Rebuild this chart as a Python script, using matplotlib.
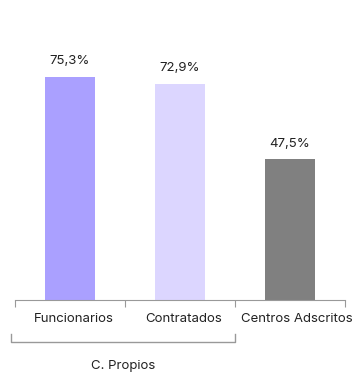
import matplotlib.pyplot as plt
from matplotlib.transforms import blended_transform_factory, offset_copy

categories = ["Funcionarios", "Contratados", "Centros Adscritos"]
values = [75.3, 72.9, 47.5]
labels = ["75,3%", "72,9%", "47,5%"]
colors = ["#aaa0ff", "#dcd6ff", "#808080"]
group_label = "C. Propios"

plt.rcParams['font.family'] = ['Inter', 'DejaVu Sans']

fig = plt.figure(figsize=(3.52, 3.74), dpi=100)
ax = fig.add_axes([15 / 352, 74 / 374, 330 / 352, 270 / 374])

x = list(range(len(categories)))
ax.bar(x, values, width=50 / 110, color=colors)
for xi, v, lab in zip(x, values, labels):
    ax.annotate(lab, (xi, v), xytext=(0, 7), textcoords="offset points",
                ha="center", va="bottom", fontsize=9.5, color="#222222")

ax.set_xlim(-0.5, 2.5)
ax.set_ylim(0, 270 / 2.963)

for s in ["top", "right", "left"]:
    ax.spines[s].set_visible(False)
ax.spines["bottom"].set_color("#999999")
ax.set_yticks([])
ax.set_xticks([-0.5, 0.5, 1.5, 2.5])
ax.set_xticklabels([])
ax.tick_params(axis="x", length=5, color="#999999", direction="out")

trans = blended_transform_factory(ax.transData, ax.transAxes)
# the labels sit a little right of the bar centres in the original
shifts = [4, 4, 7]
for xi, c, dx in zip(x, categories, shifts):
    t = offset_copy(trans, fig=fig, x=dx, y=0, units="dots")
    ax.text(xi, -0.072, c, transform=t, ha="center", va="center",
            fontsize=9.5, color="#222222")

# bracket under the first two categories
y_top = -0.126
y_bot = -0.156
ax.plot([-0.536, -0.536, 1.5, 1.5], [y_top, y_bot, y_bot, y_top],
        transform=trans, color="#999999", lw=1, clip_on=False)
ax.text(0.48, -0.245, group_label, transform=trans, ha="center", va="center",
        fontsize=9.5, color="#222222")

fig.savefig("out.png", dpi=100)
